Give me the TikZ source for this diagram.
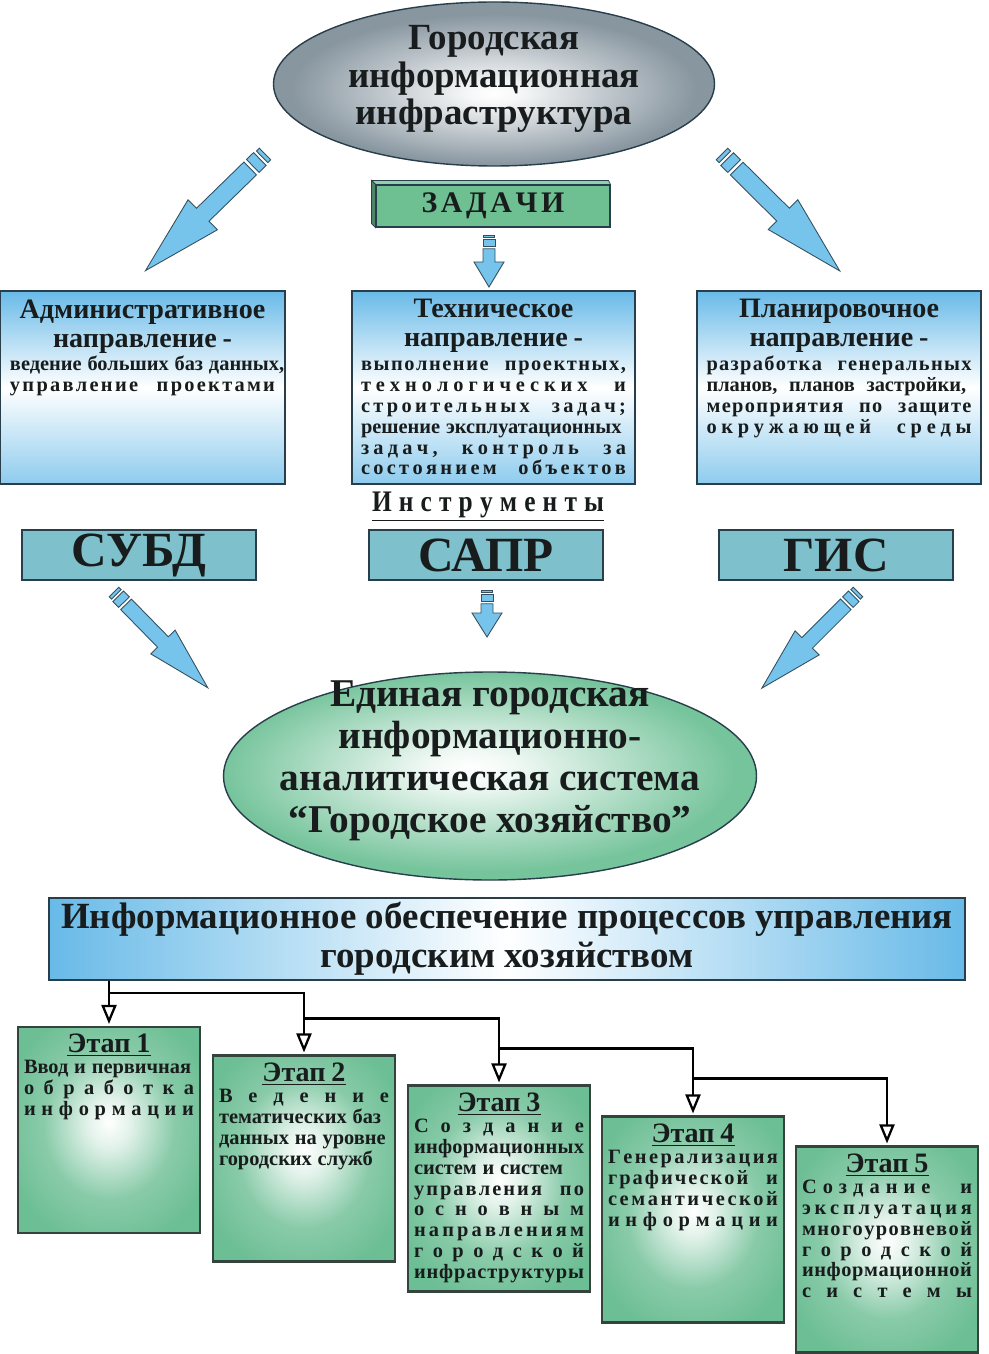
\documentclass[tikz,border=0pt]{standalone}
\usepackage{fontspec}
\setmainfont{Liberation Serif}
\newfontfamily\narrowfont[FakeStretch=0.85]{Liberation Serif}
\usetikzlibrary{positioning,shapes.geometric,arrows.meta,calc}

\newlength{\unitpx}
\setlength{\unitpx}{0.02cm}

\definecolor{arrowblue}{RGB}{118,195,236}
\definecolor{arrowline}{RGB}{52,80,94}
\definecolor{boxblue}{RGB}{104,186,232}
\definecolor{boxline}{RGB}{40,62,74}
\definecolor{toolteal}{RGB}{126,192,203}
\definecolor{taskgreen}{RGB}{110,192,146}
\definecolor{stagegreen}{RGB}{108,190,148}
\definecolor{stageline}{RGB}{52,68,60}
\definecolor{ellgray}{RGB}{136,150,160}
\definecolor{ellgreen}{RGB}{118,196,156}
\definecolor{textdark}{RGB}{24,28,28}

\pgfdeclareradialshading{grayglow}{\pgfpoint{0bp}{-3bp}}{color(0bp)=(white); color(3bp)=(white!92!ellgray); color(23bp)=(ellgray); color(50bp)=(ellgray)}
\pgfdeclareradialshading{greenglow}{\pgfpoint{-2bp}{2bp}}{color(0bp)=(white); color(4bp)=(white!90!ellgreen); color(24bp)=(ellgreen); color(50bp)=(ellgreen)}
\pgfdeclareradialshading{stageglow}{\pgfpoint{0bp}{2bp}}{color(0bp)=(white); color(6bp)=(white!80!stagegreen); color(18bp)=(stagegreen!80!white); color(30bp)=(stagegreen); color(50bp)=(stagegreen)}

% fonts
\newcommand{\dirtitle}{\fontsize{16pt}{16.5pt}\selectfont\bfseries}
\newcommand{\dirbody}{\fontsize{11.6pt}{11.9pt}\selectfont\bfseries}
\newcommand{\stagetitle}{\fontsize{16pt}{16.5pt}\selectfont\bfseries}
\newcommand{\stagebody}{\fontsize{11.6pt}{11.9pt}\selectfont\bfseries}

% justified line and letter-spaced line
\newcommand{\jl}[1]{\makebox[\linewidth][s]{#1}}
\def\lsx#1{\ifx#1\relax\else#1\hfil\expandafter\lsx\fi}
\newcommand{\lsline}[1]{\makebox[\linewidth][s]{\lsx#1\relax\unskip}}

% blue block arrow: tail, angle, length, shaft half width, head half width, head length
\newcommand{\blockarrow}[6]{%
  \begin{scope}[shift={(#1)}, rotate=#2]
    \draw[arrowbody] (0,-0.9*#4) rectangle (0.45*#4,0.9*#4);
    \draw[arrowbody] (0.8*#4,-#4) rectangle (1.9*#4,#4);
    \draw[arrowbody] (2.3*#4,-#4) -- (#3-#6,-#4) -- (#3-#6,-#5) -- (#3,0)
      -- (#3-#6,#5) -- (#3-#6,#4) -- (2.3*#4,#4) -- cycle;
  \end{scope}}

\begin{document}
\begin{tikzpicture}[x=\unitpx, y=\unitpx,
    every node/.style={text=textdark},
    arrowbody/.style={draw=arrowline, fill=arrowblue, line width=0.5pt},
    topell/.style={ellipse, draw=boxline, line width=0.8pt, shade, shading=grayglow,
      minimum width=441\unitpx, minimum height=164\unitpx, inner sep=0pt},
    midell/.style={ellipse, draw=boxline, line width=0.8pt, shade, shading=greenglow,
      minimum width=533\unitpx, minimum height=208\unitpx, inner sep=0pt},
    elltext/.style={align=center, inner sep=0pt},
    taskbox/.style={draw=boxline, line width=0.6pt, fill=taskgreen, minimum width=234\unitpx,
      minimum height=42\unitpx, inner sep=0pt, text width=143\unitpx, align=center,
      font=\fontsize{17pt}{18pt}\selectfont\bfseries},
    dirbox/.style={draw=boxline, line width=1pt, top color=boxblue, bottom color=boxblue!75,
      middle color=white, minimum height=193\unitpx, inner sep=0pt},
    dirtext/.style={text width=265\unitpx, align=center, inner sep=0pt},
    toolbox/.style={draw=boxline, line width=1pt, fill=toolteal, minimum width=234\unitpx,
      minimum height=50\unitpx, inner sep=0pt, font=\fontsize{28pt}{30pt}\selectfont\bfseries},
    infobox/.style={draw=boxline, line width=1pt, left color=boxblue, right color=boxblue,
      middle color=white, minimum width=916\unitpx, minimum height=82\unitpx, inner sep=0pt,
      align=center, font=\fontsize{21pt}{22pt}\selectfont\bfseries},
    stagebox/.style={draw=stageline, line width=1.2pt, shade, shading=stageglow,
      minimum width=182\unitpx, minimum height=206\unitpx, inner sep=0pt},
    stagetext/.style={text width=170\unitpx, align=center, inner sep=0pt},
    tree/.style={line width=1.3pt, -{Triangle[open, length=0.38cm, width=0.3cm]},
      shorten >=0.04cm}]

\useasboundingbox (0,0) rectangle (988,-1354);

% top ellipse and tasks
\node[topell] (city) at (494,-84) {};
\node[elltext, font=\fontsize{21pt}{21.5pt}\selectfont\bfseries] (citytext) at ($(city)+(0,5)$) {Городская\\информационная\\инфраструктура};
\node[taskbox] (tasks) at (493,-206) {\lsline{ЗАДАЧИ}};
\filldraw[fill=taskgreen!75!white, draw=boxline, line width=0.4pt]
  (tasks.north west) -- ++(-4,4) -- ($(tasks.north east)+(-2,4)$) -- (tasks.north east) -- cycle;
\filldraw[fill=taskgreen!70!black, draw=boxline, line width=0.4pt]
  (tasks.north west) -- ++(-4,4) -- ($(tasks.south west)+(-4,4)$) -- (tasks.south west) -- cycle;

% directions
\node[dirbox, minimum width=285\unitpx] (adm) at (142.5,-387.5) {};
\node[dirbox, minimum width=283\unitpx] (tech) at (493.5,-387.5) {};
\node[dirbox, minimum width=284\unitpx] (plan) at (839,-387.5) {};

\node[dirtext, below=9\unitpx of adm.north] (admtext) {{\dirtitle Административное\\направление -\par}\vspace{1.5pt}{\dirbody\jl{ведение больших баз данных,}\\\lsline{управление~~проектами}\par}};
\node[dirtext, below=9\unitpx of tech.north] (techtext) {{\dirtitle Техническое\\направление -\par}\vspace{1.5pt}{\dirbody\lsline{выполнение~~проектных,}\\\lsline{технологических~~и}\\\lsline{строительных~~задач;}\\\jl{решение эксплуатационных}\\\lsline{задач,~~контроль~~за}\\\lsline{состоянием~~объектов}\par}};
\node[dirtext, below=9\unitpx of plan.north] (plantext) {{\dirtitle Планировочное\\направление -\par}\vspace{1.5pt}{\dirbody\lsline{разработка~~генеральных}\\\jl{планов,\ \ планов\ \ застройки,}\\\lsline{мероприятия~~по~~защите}\\\lsline{окружающей~~среды}\par}};

% tools
\node[text width=232\unitpx, align=center, inner sep=0pt, font=\narrowfont\fontsize{17pt}{18pt}\selectfont\bfseries] (instr) at (488,-507) {\underline{\lsline{Инструменты}}};
\node[toolbox] (subd) at (139,-555) {СУБД};
\node[toolbox] (sapr) at (486,-555) {САПР};
\node[toolbox] (gis) at (836,-555) {ГИС};

% block arrows
\coordinate (t1) at (265,-154);
\coordinate (t2) at (722,-154);
\coordinate (t3) at (489,-235);
\coordinate (t4) at (114,-592);
\coordinate (t5) at (858,-592);
\coordinate (t6) at (487,-590);
\blockarrow{t1}{224.3}{167}{9}{21}{80}
\blockarrow{t2}{-44.8}{166}{9}{21}{80}
\blockarrow{t3}{-90}{52}{6}{15}{25}
\blockarrow{t4}{-45.6}{134}{7.5}{17}{64}
\blockarrow{t5}{225}{136}{7.5}{17}{64}
\blockarrow{t6}{-90}{47}{6}{15}{24}

% unified system
\node[midell] (ugis) at (490,-776) {};
\node[elltext, font=\fontsize{22.4pt}{24pt}\selectfont\bfseries] (ugistext) at ($(ugis)+(0,15)$) {Единая городская\\информационно-\\аналитическая система\\“Городское хозяйство”};
\node[infobox] (info) at (507,-939) {Информационное обеспечение процессов управления\\городским хозяйством};

% stages
\node[stagebox] (s1) at (109,-1130) {};
\node[stagebox] (s2) at (304,-1158.5) {};
\node[stagebox] (s3) at (499,-1188.5) {};
\node[stagebox] (s4) at (693,-1219.5) {};
\node[stagebox] (s5) at (887,-1249.5) {};

\node[stagetext, below=8\unitpx of s1.north] (s1text) {\stagetitle\underline{Этап 1}\par{\stagebody\jl{Ввод и первичная}\\\lsline{обработка}\\\lsline{информации}\par}};
\node[stagetext, below=8\unitpx of s2.north] (s2text) {\stagetitle\underline{Этап 2}\par{\stagebody\lsline{Ведение}\\\jl{тематических баз}\\\jl{данных на уровне}\\\jl{городских служб}\par}};
\node[stagetext, below=8\unitpx of s3.north] (s3text) {\stagetitle\underline{Этап 3}\par{\stagebody\lsline{Создание}\\\lsline{информационных}\\\jl{систем и систем}\\\lsline{управления~~по}\\\lsline{основным}\\\lsline{направлениям}\\\lsline{городской}\\\lsline{инфраструктуры}\par}};
\node[stagetext, below=8\unitpx of s4.north] (s4text) {\stagetitle\underline{Этап 4}\par{\stagebody\lsline{Генерализация}\\\lsline{графической~~и}\\\lsline{семантической}\\\lsline{информации}\par}};
\node[stagetext, below=8\unitpx of s5.north] (s5text) {\stagetitle\underline{Этап 5}\par{\stagebody\lsline{Создание~~и}\\\lsline{эксплуатация}\\\lsline{многоуровневой}\\\lsline{городской}\\\lsline{информационной}\\\lsline{системы}\par}};

% stage tree
\draw[tree] (info.south -| s1.north) -- (s1.north);
\draw[tree] ($(info.south -| s1.north)+(0,-12)$) -| (s2.north);
\draw[tree] ($(s2.north)+(0,36)$) -| (s3.north);
\draw[tree] ($(s3.north)+(0,36)$) -| (s4.north);
\draw[tree] ($(s4.north)+(0,37)$) -| (s5.north);
\end{tikzpicture}
\end{document}
